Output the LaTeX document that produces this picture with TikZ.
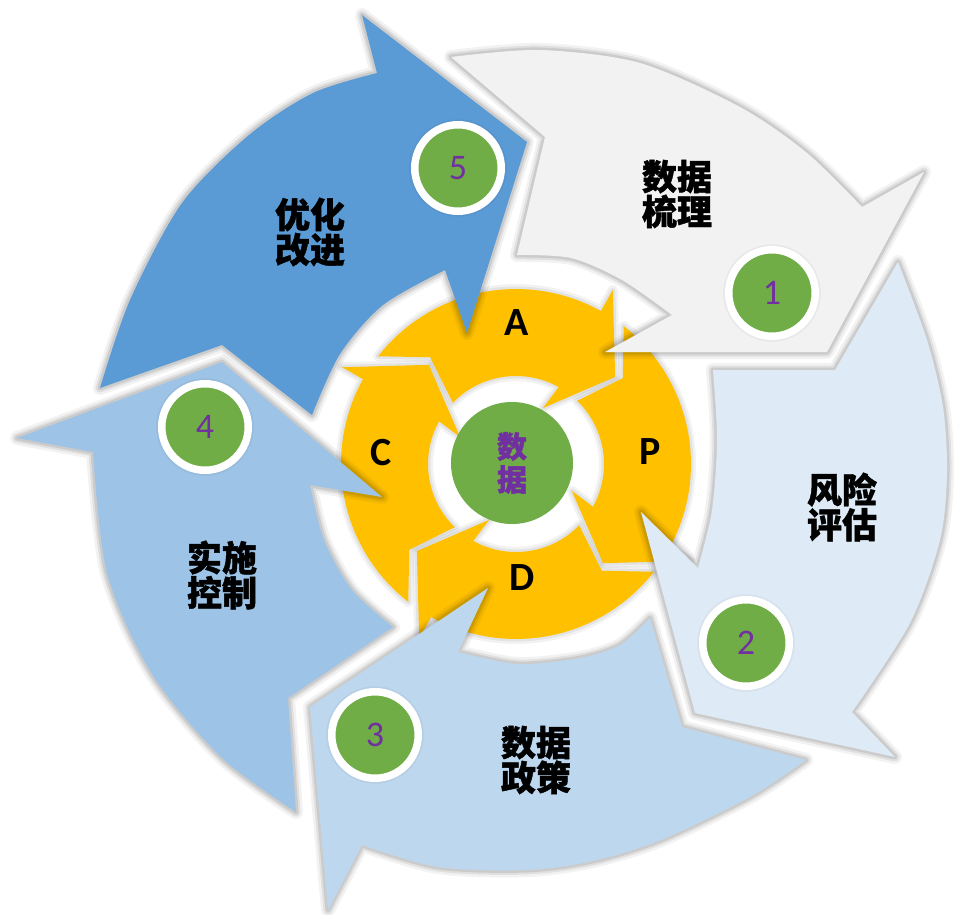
\documentclass[tikz,border=0pt]{standalone}
\usepackage{fontspec}
\newfontfamily\cjk{Noto Sans CJK SC}[BoldFeatures={FakeBold=1.2}]
\newfontfamily\calfont{Carlito}
\definecolor{cA}{HTML}{F2F2F2}
\definecolor{cB}{HTML}{DEEBF7}
\definecolor{cC}{HTML}{BDD7EE}
\definecolor{cD}{HTML}{9DC3E6}
\definecolor{cE}{HTML}{5B9BD5}
\definecolor{yel}{HTML}{FFC000}
\definecolor{grn}{HTML}{70AD47}
\definecolor{pur}{HTML}{7030A0}
\begin{document}
\begin{tikzpicture}[x=1pt,y=-1pt,
  shad/.style={
    preaction={draw=black,draw opacity=0.05,line width=14pt,line join=round},
    preaction={draw=black,draw opacity=0.07,line width=9pt,line join=round},
    preaction={draw=black,draw opacity=0.09,line width=5pt,line join=round}},
  lightshad/.style={
    preaction={draw=black,draw opacity=0.05,line width=10pt,line join=round},
    preaction={draw=black,draw opacity=0.06,line width=5pt,line join=round}},
  badgeshad/.style={
    preaction={draw=black,draw opacity=0.04,line width=11pt}},
  lbl/.style={font=\cjk\bfseries\fontsize{35}{35}\selectfont, align=center, inner sep=0pt, text=black},
  badge/.style={circle, fill=grn, draw=white, line width=7.5pt, minimum size=86.5pt, inner sep=0pt,
    text=pur, font=\calfont\fontsize{36}{36}\selectfont, badgeshad},
  pdca/.style={font=\calfont\bfseries\fontsize{40}{40}\selectfont, text=black, inner sep=0pt}
]
\fill[white] (0,0) rectangle (954,914);
\useasboundingbox (0,0) rectangle (954,914);

% inner PDCA ring
\begin{scope}[shift={(516,464)}]
\foreach \o in {0,90,180,270}{
  \pgfmathsetmacro\aa{-142+\o}
  \pgfmathsetmacro\ab{-61+\o}
  \pgfmathsetmacro\ac{-135.9+\o}
  \fill[yel,lightshad] (\aa:175)
    -- plot[domain=\aa:\ab,samples=30,variable=\t] ({175*cos(\t)},{175*sin(\t)})
    -- (-60.9+\o:199) -- (-41.3+\o:132) -- (-64.3+\o:62) -- (\ab:88)
    -- plot[domain=\ab:\ac,samples=30,variable=\t] ({88*cos(\t)},{88*sin(\t)})
    -- (-128.8+\o:137) -- cycle;
}
\end{scope}
\node[circle, fill=grn, minimum size=122pt, inner sep=0pt, text=pur,
  font=\cjk\bfseries\fontsize{30}{33}\selectfont, align=center] (core) at (512,463) {数\\据};

% outer arrows
\fill[cA,shad] plot[smooth] coordinates {(451,57) (540,50) (640,63) (740,107) (807,153) (862,207)}
  -- (924,172) -- (827,352) -- (605,352) -- (672,315)
  -- plot[smooth] coordinates {(672,315) (622,280) (571,258) (517,255)}
  -- (545,137) -- cycle;
\fill[cB,shad] plot[smooth] coordinates {(898,262) (927,340) (943,407) (947,473) (940,540) (910,623) (852,712)}
  -- (895,757) -- (695,713) -- (641,512) -- (698,568)
  -- plot[smooth] coordinates {(698,568) (712,510) (717,440) (713,370)}
  -- (835,370) -- cycle;
\fill[cC,shad] plot[smooth] coordinates {(806,760) (750,797) (661,840) (593,861) (527,870) (438,867) (362,845)}
  -- (328,910) -- (310,707) -- (488,588) -- (458,652)
  -- plot[smooth] coordinates {(458,652) (518,664) (580,658) (620,645) (650,618)}
  -- (682,727) -- cycle;
\fill[cD,shad] plot[smooth] coordinates {(296,812) (222,758) (152,674) (107,573) (93,452)}
  -- (17,438) -- (222,362) -- (382,497) -- (310,485)
  -- plot[smooth] coordinates {(310,485) (324,540) (352,590) (393,627)}
  -- (288,698) -- cycle;
\fill[cE,shad] plot[smooth] coordinates {(100,388) (130,300) (182,203) (249,135) (313,93) (377,73)}
  -- (362,15) -- (527,142) -- (467,333) -- (445,270)
  -- plot[smooth] coordinates {(445,270) (383,305) (340,354) (312,415)}
  -- (222,345) -- cycle;

% badges
\node[badge] (n1) at (772,293) {1};
\node[badge] (n2) at (746,643) {2};
\node[badge] (n3) at (375,735) {3};
\node[badge] (n4) at (205,427) {4};
\node[badge] (n5) at (458,168) {5};

% labels
\node[lbl] (t1) at (677,194) {数据\\梳理};
\node[lbl] (t2) at (842,507) {风险\\评估};
\node[lbl] (t3) at (536,760) {数据\\政策};
\node[lbl] (t4) at (222,575) {实施\\控制};
\node[lbl] (t5) at (310,232) {优化\\改进};

\node[pdca] (lA) at (517,323) {A};
\node[pdca] (lP) at (650,452) {P};
\node[pdca] (lD) at (522,578) {D};
\node[pdca] (lC) at (381,453) {C};
\end{tikzpicture}
\end{document}
